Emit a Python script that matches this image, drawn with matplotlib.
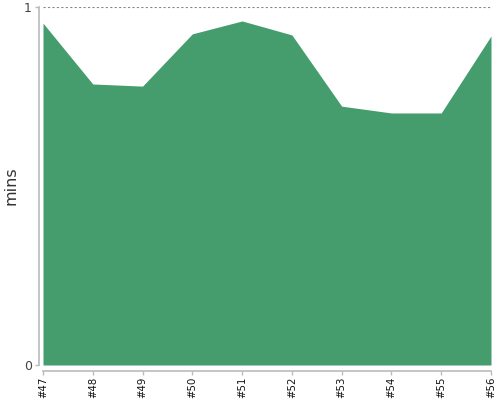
import matplotlib
matplotlib.use("Agg")
import matplotlib.pyplot as plt

labels = ["#47", "#48", "#49", "#50", "#51", "#52", "#53", "#54", "#55", "#56"]
values = [0.955, 0.785, 0.779, 0.925, 0.961, 0.922, 0.723, 0.704, 0.704, 0.919]

fig = plt.figure(figsize=(5, 4), dpi=100)
ax = fig.add_axes([43/500, 1 - 365/400, (491 - 43)/500, (365 - 7)/400])
x = list(range(len(labels)))
ax.fill_between(x, values, 0, color="#459d6e", linewidth=0)
ax.axhline(1, color="#888888", linestyle=(0, (2, 2)), linewidth=0.8)
ax.set_xlim(0, len(labels) - 1)
ax.set_ylim(0, 1)
ax.set_xticks(x)
ax.set_yticks([0, 1])
for s in ["top", "right"]:
    ax.spines[s].set_visible(False)
ax.spines["left"].set_position(("outward", 3))
ax.spines["bottom"].set_position(("outward", 4))
for s in ["left", "bottom"]:
    ax.spines[s].set_color("#bbbbbb")
    ax.spines[s].set_linewidth(1.2)
ax.tick_params(axis="both", colors="#bbbbbb", length=3, width=1)
ax.tick_params(axis="x", labelcolor="#111111", pad=1.5)
ax.tick_params(axis="y", labelcolor="#444444", pad=2)
ax.set_xticklabels(labels, fontsize=7.3, rotation=90, ha="center", va="top",
                   rotation_mode="default")
ax.set_yticklabels(["0", "1"], fontsize=9)
ax.set_ylabel("mins", fontsize=11.5, color="#333333", labelpad=4)
fig.savefig("out.png", dpi=100)
